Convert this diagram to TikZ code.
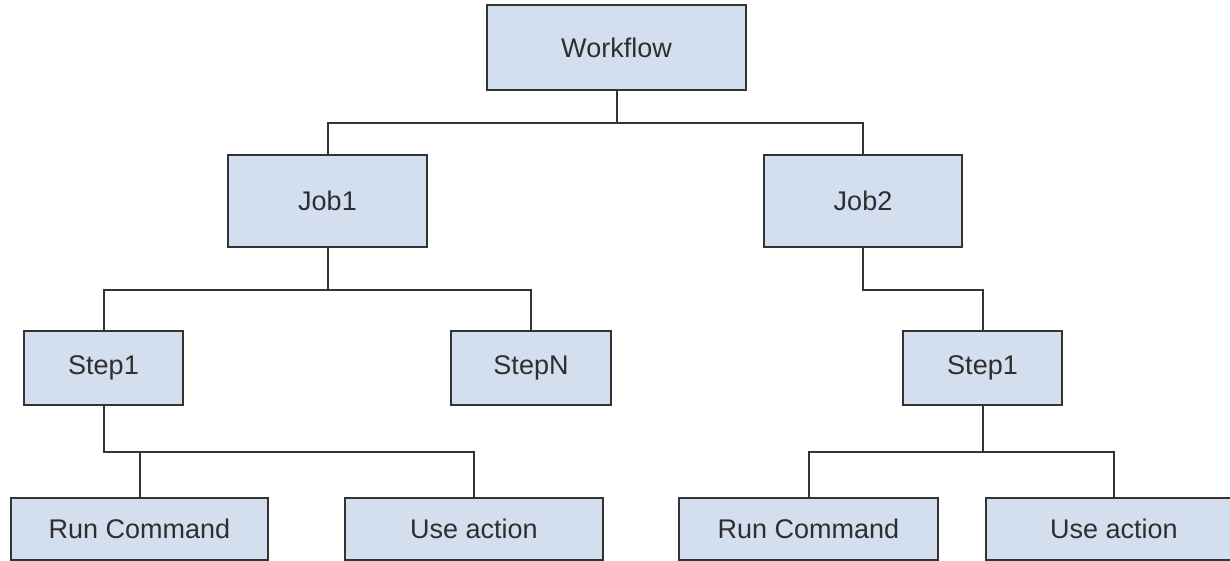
\documentclass[tikz,border=0pt]{standalone}
\usepackage{fontspec}
\setmainfont{Liberation Sans}
\definecolor{boxfill}{RGB}{211,223,238}
\definecolor{boxline}{RGB}{51,51,51}
\tikzset{
  box/.style={draw=boxline, fill=boxfill, line width=2.2pt, inner sep=0pt,
    font=\fontsize{27}{32}\selectfont, text=boxline!90!black},
  link/.style={draw=boxline, line width=2pt}
}
\begin{document}
\begin{tikzpicture}[x=1pt,y=-1pt]
\useasboundingbox (0,0) rectangle (1230,560);
\clip (0,0) rectangle (1230,560);
\fill[white] (0,0) rectangle (1230,560);
% nodes
\node[box, minimum width=259pt, minimum height=85pt] (wf) at (616.5,47.5) {Workflow};
\node[box, minimum width=199pt, minimum height=92pt] (job1) at (327.5,201) {Job1};
\node[box, minimum width=198pt, minimum height=92pt] (job2) at (863,201) {Job2};
\node[box, minimum width=159pt, minimum height=74pt] (s1l) at (103.5,368) {Step1};
\node[box, minimum width=160pt, minimum height=74pt] (sn) at (531,368) {StepN};
\node[box, minimum width=159pt, minimum height=74pt] (s1r) at (982.5,368) {Step1};
\node[box, minimum width=257pt, minimum height=62pt] (rcl) at (139.5,529) {Run Command};
\node[box, minimum width=258pt, minimum height=62pt] (ual) at (474,529) {Use action};
\node[box, minimum width=259pt, minimum height=62pt] (rcr) at (808.5,529) {Run Command};
\node[box, minimum width=256pt, minimum height=62pt] (uar) at (1114,529) {Use action};
% bus levels
\coordinate (b1) at (0,123);
\coordinate (b2) at (0,290);
\coordinate (b3) at (0,452);
% connectors
\draw[link] (wf.south) -- (wf.south |- b1) -| (job1.north);
\draw[link] (wf.south |- b1) -| (job2.north);
\draw[link] (job1.south) -- (job1.south |- b2) -| (s1l.north);
\draw[link] (job1.south |- b2) -| (sn.north);
\draw[link] (job2.south) |- (s1r.north |- b2) -- (s1r.north);
\draw[link] (s1l.south) -- (s1l.south |- b3) -| (rcl.north);
\draw[link] (s1l.south |- b3) -| (ual.north);
\draw[link] (s1r.south) -- (s1r.south |- b3) -| (rcr.north);
\draw[link] (s1r.south |- b3) -| (uar.north);
\end{tikzpicture}
\end{document}
